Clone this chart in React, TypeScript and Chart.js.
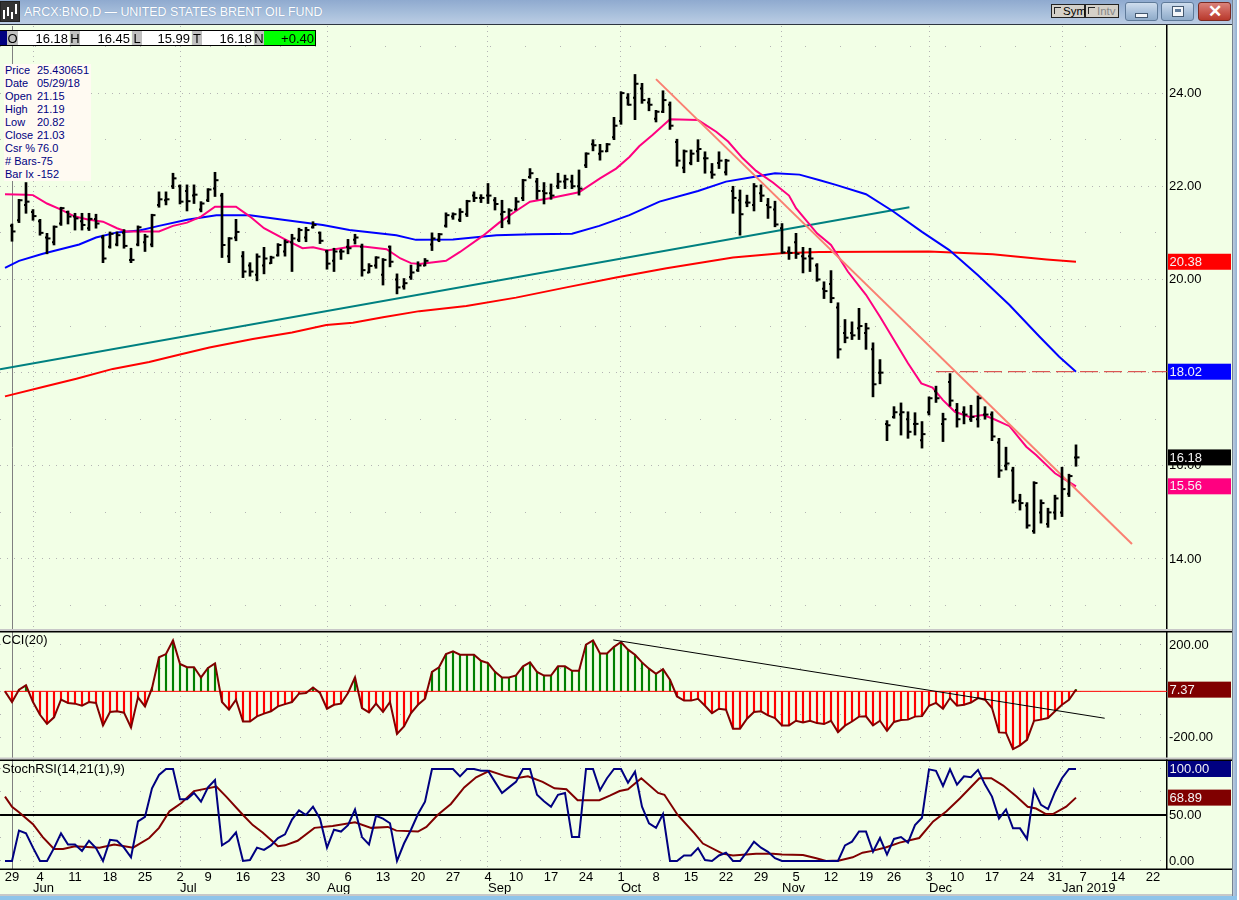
import React, { useEffect, useRef } from "react";
import Chart from "chart.js/auto";

const highs = [21.19,21.72,22.08,21.50,21.29,20.99,21.15,21.55,21.47,21.42,21.42,21.42,21.40,20.95,21.02,21.02,21.07,20.67,21.15,20.97,21.40,21.88,21.88,22.28,22.03,22.03,22.03,21.67,21.95,22.30,21.85,20.90,21.29,20.60,20.36,20.55,20.69,20.50,20.77,20.85,20.97,21.10,21.12,21.24,21.02,20.63,20.67,20.65,20.86,20.97,20.76,20.34,20.49,20.45,20.72,20.12,20.02,20.31,20.38,20.45,21.00,20.99,21.43,21.43,21.52,21.70,21.88,21.82,22.06,21.76,21.70,21.52,21.76,22.15,22.38,22.17,22.08,22.05,22.28,22.24,22.24,22.35,22.72,23.00,22.90,22.92,23.48,24.03,23.99,24.40,24.21,23.89,23.63,24.05,23.81,23.01,22.78,22.78,23.00,22.74,22.49,22.74,22.58,22.00,21.92,21.81,22.06,22.03,21.74,21.68,21.20,20.70,20.99,20.69,20.67,20.34,19.95,20.19,19.50,19.14,19.09,19.38,19.06,18.64,18.28,16.97,17.27,17.35,17.16,17.14,16.95,17.48,17.71,17.13,17.98,17.34,17.27,17.30,17.50,17.27,17.16,16.59,16.40,15.97,15.39,15.21,15.66,15.27,15.09,15.37,15.97,15.82,16.45];
const lows = [20.82,21.22,21.42,21.27,20.95,20.55,20.74,21.16,21.19,21.06,21.06,21.05,21.10,20.36,20.67,20.72,20.67,20.36,20.72,20.60,20.70,21.55,21.60,21.95,21.62,21.47,21.63,21.45,21.67,21.78,20.47,20.36,20.83,20.04,20.07,19.97,20.12,20.34,20.50,20.50,20.17,20.81,20.81,21.10,20.77,20.22,20.17,20.43,20.55,20.76,20.07,20.14,20.24,19.88,20.27,19.69,19.79,20.00,20.17,20.29,20.62,20.81,21.12,21.29,21.24,21.35,21.67,21.65,21.63,21.49,21.11,21.19,21.49,21.69,22.17,21.72,21.62,21.72,21.95,21.95,21.95,21.81,22.40,22.76,22.56,22.74,23.00,23.33,23.74,23.43,23.78,23.62,23.38,23.58,23.22,22.43,22.29,22.46,22.53,22.28,22.17,22.38,22.24,21.42,20.95,21.56,21.47,21.67,21.31,21.13,20.56,20.43,20.45,20.14,20.17,19.96,19.59,19.50,18.31,18.64,18.71,18.71,18.50,17.48,17.76,16.54,17.02,16.66,16.59,16.66,16.38,17.09,17.36,16.52,17.28,16.83,16.90,16.95,16.83,17.00,16.54,15.75,15.91,15.20,15.05,14.66,14.55,14.77,14.68,14.85,14.91,15.34,15.99];
const opens = [21.15,21.27,21.60,21.45,21.25,20.90,20.80,21.20,21.45,21.35,21.25,21.10,21.30,20.90,20.70,20.75,21.00,20.42,20.75,20.80,20.75,21.60,21.70,22.00,22.00,21.90,21.80,21.50,21.70,21.95,21.80,20.50,20.90,20.50,20.30,20.10,20.30,20.35,20.52,20.60,20.80,20.85,20.90,21.12,21.00,20.60,20.40,20.60,20.70,20.85,20.70,20.15,20.30,20.10,20.70,20.00,19.85,20.05,20.20,20.30,20.75,20.85,21.15,21.35,21.28,21.40,21.80,21.75,21.80,21.70,21.40,21.25,21.50,21.75,22.20,22.10,21.90,21.85,22.00,22.10,22.10,22.00,22.45,22.90,22.70,22.75,23.05,23.40,23.90,23.90,24.10,23.80,23.45,23.60,23.75,22.95,22.40,22.50,22.75,22.60,22.30,22.50,22.30,21.90,21.70,21.65,21.60,21.85,21.60,21.50,21.10,20.60,20.80,20.50,20.50,20.30,19.80,19.90,19.40,18.85,18.85,18.95,18.85,18.50,18.00,16.90,17.05,17.10,17.00,16.90,16.55,17.15,17.60,16.90,17.80,17.20,17.15,17.00,17.00,17.10,17.10,16.50,16.00,15.90,15.25,15.15,14.60,15.00,14.75,15.00,15.00,15.40,16.18];
const closes = [21.03,21.70,21.67,21.36,21.00,20.88,21.13,21.53,21.35,21.31,21.17,21.30,21.20,20.45,20.98,20.95,20.72,20.42,21.12,20.92,21.38,21.72,21.72,22.17,21.67,21.68,21.82,21.63,21.93,22.13,20.74,20.88,21.02,20.17,20.17,20.49,20.45,20.47,20.74,20.80,20.88,21.06,21.06,21.17,20.83,20.34,20.60,20.60,20.67,20.90,20.20,20.29,20.47,20.42,20.38,19.83,19.92,20.15,20.30,20.40,20.88,20.97,21.38,21.40,21.45,21.68,21.75,21.75,21.80,21.62,21.45,21.48,21.67,22.13,22.28,21.90,21.85,21.80,22.10,22.15,22.00,21.95,22.70,22.88,22.75,22.90,23.30,24.00,23.75,24.20,23.85,23.75,23.60,23.85,23.30,22.55,22.75,22.70,22.80,22.60,22.25,22.55,22.55,21.75,21.40,21.65,22.00,21.80,21.55,21.18,20.58,20.57,20.55,20.45,20.45,20.00,19.75,19.60,18.50,18.75,18.80,19.00,18.95,17.75,18.00,16.87,17.15,17.15,16.73,16.90,16.68,17.45,17.45,17.00,17.40,17.00,17.10,17.05,17.45,17.10,16.63,15.90,16.05,15.25,15.20,14.72,15.63,15.20,15.00,15.30,15.50,15.78,16.18];

const pinkX = [-1,2,3,5,7,9,11,13,15,16.3,21,23,25,27,29,32,34,36,39,41.5,43,45,49,50.5,53.5,55.5,57,58.2,62,64,67.3,69.6,72,74,77,81,84,86.3,88.2,89.6,91.5,94,98,100.6,102.3,104.4,106.3,108.7,111,112,115,117,119.4,122,124,126,128,129.9,131.5,133,134.7,136.8,138.7,140,142.5,144.9,146.3,149,152];
const pinkY = [21.83,21.82,21.81,21.63,21.50,21.35,21.28,21.24,21.10,21.03,21.03,21.15,21.22,21.35,21.56,21.56,21.35,21.10,20.86,20.67,20.69,20.62,20.72,20.70,20.65,20.45,20.35,20.33,20.40,20.59,20.94,21.22,21.47,21.67,21.75,21.87,22.17,22.38,22.63,22.86,23.10,23.44,23.42,23.17,22.96,22.60,22.33,22.08,21.80,21.53,20.99,20.74,20.17,19.67,19.20,18.70,18.20,17.77,17.68,17.41,17.16,17.05,17.09,17.02,16.85,16.41,16.23,15.84,15.56];
const blueX = [-1,1,4.4,9.6,12,15,18.2,21,25,29.2,34,38.7,44.4,48.2,54.9,57.7,63,69.2,74.4,80,83.9,88.2,92.5,98,102,105.9,109,112.5,115.4,117.7,122,125.8,130,133.9,138,142.5,146.8,149.6,152];
const blueY = [20.25,20.40,20.55,20.75,20.90,21.01,21.05,21.15,21.28,21.38,21.38,21.28,21.17,21.06,20.95,20.85,20.86,20.95,20.97,20.98,21.15,21.38,21.67,21.90,22.10,22.20,22.28,22.25,22.13,22.03,21.83,21.47,21.02,20.63,20.09,19.45,18.77,18.34,18.02];
const redX = [-1,4.4,9.2,14.4,19.6,24,28.2,34.4,40,44.9,48.7,53,58.2,64.9,72,79.2,86.3,93.5,103,109.9,115.3,131,140.1,143,147.8,152];
const redY = [17.49,17.69,17.87,18.08,18.23,18.39,18.54,18.72,18.86,19.02,19.07,19.19,19.32,19.43,19.61,19.83,20.04,20.24,20.47,20.56,20.59,20.60,20.54,20.50,20.43,20.38];
const tealX = [-1.71,128.2];
const tealY = [18.07,21.55];
const salmonX = [92,160];
const salmonY = [24.3,14.32];
const resistX = [132,165];
const resistY = [18.02,18.02];

const cciValues = [0,-46,7,26,-46,-101,-140,-112,-36,-50,-53,-62,-46,-50,-147,-89,-86,-92,-156,-26,-65,14,147,161,220,118,104,104,60,101,121,-46,-79,-36,-130,-130,-108,-96,-86,-65,-55,-46,-10,-7,17,-7,-75,-58,-53,-7,60,-72,-91,-53,-89,-46,-184,-151,-94,-58,-32,84,104,161,173,158,158,158,132,122,84,60,60,69,108,125,84,68,68,108,108,89,89,202,220,163,163,192,213,180,158,125,98,76,96,50,-22,-40,-40,-32,-62,-94,-75,-79,-161,-161,-118,-89,-86,-104,-115,-147,-147,-127,-134,-127,-137,-141,-127,-176,-148,-130,-109,-108,-147,-127,-170,-132,-124,-122,-109,-107,-62,-50,-75,-29,-62,-58,-48,-29,-36,-72,-177,-179,-249,-233,-209,-127,-122,-115,-86,-58,-36,7.37];
const cciTrendX = [85.9,156.1];
const cciTrendY = [222,-116];
const cciZeroX = [-1,165];
const cciZeroY = [0,0];

const stochValues = [0,0,33,30,14.5,0,0,14,30,18,18,11,22,14,0,23,22,14.5,4,43,48,79,93.5,100,100,67,67,74,64.5,80,88,17,22,31,0,1,14.5,12,17,25,29,45,55,50,59,46,14.5,34,32,39,56,26,18,49,46,41,0,19,34,51,64.5,100,100,100,100,92,100,100,98,98,86,74,80,86,100,100,72,65,59,72,74,26,26,100,100,77,90,100,100,85,97,59,41,36,51,0,0,6,6,14,1,0,6,9,0,0,10,21,14.5,10,3,0,0,0,0,0,0,0,0,0,17,21,32,32,10,25,7,24,26,20,39,47,99.6,98,81.5,99.6,83,92,91,99,83,70,46,56,35.5,35.5,24,77,61,56.5,75,90,100,100];
const signalX = [-1,0,1,3,4.4,6,7.3,9,12.5,14.6,17.3,19.6,21,22.5,24.2,26,29.2,30.6,33,34.4,35.8,38,39,40.8,43.2,45.8,49,51.3,53.7,54.9,58,59.2,60.8,62.7,64.6,66.3,68.2,70.6,72,73.7,75.8,77.5,79.2,80.8,83.9,85.4,86.8,88,89.9,92.3,93.2,95.1,97.5,98.7,101.5,103,106.3,108.7,110,113,114.9,116.3,118.2,120.1,121.5,122.9,124.9,126.8,129.6,131.6,133.5,135.4,138.2,139.9,141.6,143.5,145.1,146.3,147.7,148.7,150.6,152];
const signalY = [70,59,53,40,26,13,13,16,14.5,18,14.5,25,36,54,63,76,81,70,50,39,31,16,17,22,36,38,42,36,37,33,32,37,50,62,80,91,98,92,90,92,86,79,78,66,66,71,76,78,90,74,72,50,30,19,8,6,8,8,7,6.5,3,0,0.5,4,9,11,15,20,25,43,54,68,90,90,82,70,59,57,51,51,59,68.89];
const stochMidX = [-1.71,165];
const stochMidY = [50,50];

const weekIndex = [0,4,9,14,19,24,28,33,38,43,48,53,58,63,68,72,77,82,87,92,97,102,107,112,117,122,126,131,135,140,145,149,153,158,163];
const weekLabels = ["29","4","11","18","25","2","9","16","23","30","6","13","20","27","4","10","17","24","1","8","15","22","29","5","12","19","26","3","10","17","24","31","7","14","22"];
const monthIndex = [3,24,45,68,87,110,131,150];
const monthLabels = ["Jun","Jul","Aug","Sep","Oct","Nov","Dec","Jan 2019"];

const priceTicks = [13,14,15,16,17,18,19,20,21,22,23,24,25];
const priceLabelled = [14,16,18,20,22,24];
const cciTicks = [-200,-100,0,100,200];
const cciLabelled = [-200,200];
const stochTicks = [0,25,50,75,100];
const stochLabelled = [0,50,100];

const tagAxes = ["yP","yP","yP","yP","yC","yS","yS"];
const tagValues = [20.38,18.02,16.18,15.56,7.37,100,68.89];
const tagTexts = ["20.38","18.02","16.18","15.56","7.37","100.00","68.89"];
const tagFills = ["#ff0000","#0000ff","#000000","#ff0080","#800000","#000080","#800000"];

const FONT = "13px 'Liberation Sans', Arial, sans-serif";
const BG = "#f2ffe6";
const zip = (xs: number[], ys: number[]) => xs.map((x, i) => ({ x, y: ys[i] }));
const series = (vals: number[], start: number) => vals.map((y, i) => ({ x: i + start, y }));

const chrome = {
  id: "chrome",
  beforeDatasetsDraw(chart: any) {
    const { ctx, scales } = chart;
    ctx.save();
    for (const id of ["yC", "yS"]) {
      const t = scales[id].top;
      ctx.fillStyle = "#c8c8c8";
      ctx.fillRect(0, t - 1, 1232, 2);
      ctx.fillStyle = "#000";
      ctx.fillRect(0, t + 1, 1232, 1.5);
    }
    ctx.restore();
  },
  afterDatasetsDraw(chart: any) {
    const { ctx, scales } = chart;
    ctx.save();
    ctx.font = FONT;
    ctx.textBaseline = "middle";
    tagValues.forEach((v, i) => {
      const y = scales[tagAxes[i]].getPixelForValue(v);
      ctx.fillStyle = tagFills[i];
      ctx.fillRect(1168, y - 8, 63, 16);
      ctx.fillStyle = "#f4f4f4";
      ctx.fillText(tagTexts[i], 1169.5, y + 0.5);
    });
    ctx.fillStyle = "#000";
    ctx.fillText("CCI(20)", 2, scales.yC.top + 10);
    ctx.fillText("StochRSI(14,21(1),9)", 2, scales.yS.top + 10.5);
    monthIndex.forEach((m, i) => {
      ctx.fillText(monthLabels[i], scales.x.getPixelForValue(m), 888.5);
    });
    ctx.fillStyle = "#000";
    ctx.fillRect(0, scales.x.top - 0.5, 1232, 1.5);
    ctx.restore();
  },
};

const btn: React.CSSProperties = { position: "absolute", top: 2, height: 19, borderRadius: 3, border: "1px solid #5f7a99", background: "linear-gradient(#cfdded,#a9c0da 55%,#8fabc9)", boxSizing: "border-box" };
const seg = (left: number, width: number, bg: string, text: string, align: "left" | "right" | "center" = "center"): React.ReactElement => (
  <div key={left} style={{ position: "absolute", left, width, top: 0, height: 14, lineHeight: "15px", background: bg, textAlign: align, fontSize: 13, paddingRight: align === "right" ? 1 : 0, boxSizing: "border-box", color: "#000" }}>{text}</div>
);
const infoRows: [string, string][] = [["Price","25.430651"],["Date","05/29/18"],["Open","21.15"],["High","21.19"],["Low","20.82"],["Close","21.03"],["Csr %","76.0"],["# Bars","-75"],["Bar Ix","-152"]];
const check = <span style={{ position: "absolute", left: 2, top: 2, width: 7, height: 7, background: "#d4d0c8", borderTop: "1px solid #222", borderLeft: "1px solid #222", boxSizing: "border-box" }} />;

export default function App() {
  const ref = useRef<HTMLCanvasElement>(null);
  useEffect(() => {
    if (!ref.current) return;
    const yBase = (stack: string, ticks: number[], labelled: number[], weight: number, sw: number, min: number, max: number, dash: (v: number) => number[]) => ({
      type: "linear", position: "right", stack: "panes", stackWeight: sw, weight, min, max,
      afterFit: (s: any) => { s.width = 72; s.paddingTop = 0; s.paddingBottom = 0; },
      afterBuildTicks: (s: any) => { s.ticks = ticks.map((value) => ({ value })); },
      border: { color: "#000", width: 1.5, dash: (c: any) => (c.tick ? dash(c.tick.value) : []) },
      grid: { color: "#b4b4b4", lineWidth: 1, drawTicks: false },
      ticks: { color: "#000", font: { family: "'Liberation Sans', Arial, sans-serif", size: 13 }, padding: 2, autoSkip: false, callback: (v: number) => (labelled.includes(v) ? v.toFixed(2) : "") },
    });
    const line = (data: any[], yAxisID: string, borderColor: string, borderWidth: number, order: number, extra: any = {}) => ({
      type: "line", data, yAxisID, xAxisID: "x", borderColor, borderWidth, order, pointRadius: 0, tension: 0, fill: false, ...extra,
    });
    const tickMark = (vals: number[], rotation: number, radius: number) => ({
      type: "line", data: series(vals, 0), yAxisID: "yP", showLine: false, order: 0,
      pointStyle: "dash", pointRadius: radius, pointHoverRadius: radius, pointRotation: rotation, pointBorderColor: "#000", pointBorderWidth: 2,
    });
    const chart = new Chart(ref.current, {
      type: "bar",
      data: {
        datasets: [
          { type: "bar", data: highs.map((h, i) => ({ x: i, y: [lows[i], h] })), yAxisID: "yP", backgroundColor: "#000", barThickness: 2, grouped: false, order: 0 },
          tickMark(opens, 180, 2),
          tickMark(closes, 0, 3.5),
          line(zip(redX, redY), "yP", "#ff0000", 2, 5),
          line(zip(blueX, blueY), "yP", "#0000ff", 2, 4),
          line(zip(tealX, tealY), "yP", "#008080", 2, 4),
          line(zip(pinkX, pinkY), "yP", "#ff0080", 2, 3),
          line(zip(salmonX, salmonY), "yP", "#fa8072", 2, 2),
          line(zip(resistX, resistY), "yP", "#d43030", 1, 2, { borderDash: [18, 6] }),
          { type: "bar", data: series(cciValues, -1), yAxisID: "yC", backgroundColor: (c: any) => ((c.raw?.y ?? 0) > 0 ? "#008000" : "#ff0000"), barThickness: 1.5, grouped: false, order: 6 },
          line(zip(cciZeroX, cciZeroY), "yC", "#ff0000", 1, 5),
          line(series(cciValues, -1), "yC", "#800000", 2, 3),
          line(zip(cciTrendX, cciTrendY), "yC", "#000", 1, 2),
          line(zip(stochMidX, stochMidY), "yS", "#000", 2, 5),
          line(zip(signalX, signalY), "yS", "#800000", 2, 4),
          line(series(stochValues, -1), "yS", "#000080", 2, 3),
        ] as any,
      },
      options: {
        animation: false,
        responsive: false,
        devicePixelRatio: 1,
        layout: { padding: { top: 26, left: 0, right: 0, bottom: 0 }, autoPadding: false },
        plugins: { legend: { display: false }, tooltip: { enabled: false } },
        events: [],
        scales: {
          x: {
            type: "linear", position: "bottom", min: -12 / 7, max: 165, offset: false,
            afterFit: (s: any) => { s.height = 31; s.paddingLeft = 0; s.paddingRight = 0; },
            afterBuildTicks: (s: any) => {
              const all = Array.from(new Set([...weekIndex, ...monthIndex])).sort((a, b) => a - b);
              s.ticks = all.map((value) => ({ value }));
            },
            border: { display: false, dash: (c: any) => (c.tick && c.tick.value === 0 ? [] : [1, 4]) },
            grid: {
              offset: false, drawTicks: false, lineWidth: 1,
              color: (c: any) => (c.tick && c.tick.value === 0 ? "#808080" : monthIndex.includes(c.tick?.value) ? "#b4b4b4" : "rgba(0,0,0,0)"),
            },
            ticks: {
              color: "#000", font: { family: "'Liberation Sans', Arial, sans-serif", size: 13 }, padding: 1, autoSkip: false, maxRotation: 0, minRotation: 0,
              callback: (v: number) => { const k = weekIndex.indexOf(v); return k >= 0 ? weekLabels[k] : ""; },
            },
          },
          yP: yBase("panes", priceTicks, priceLabelled, 0, 604, 12.476, 25.44, (v) => (priceLabelled.includes(v) ? [1, 6] : [1, 34])),
          yC: yBase("panes", cciTicks, cciLabelled, 1, 128.5, -289.7, 264.7, () => [1, 19]),
          yS: yBase("panes", stochTicks, stochLabelled, 2, 110.5, -8.7, 111.4, () => [1, 19]),
        } as any,
      },
      plugins: [chrome],
    } as any);
    return () => chart.destroy();
  }, []);

  return (
    <div style={{ position: "absolute", left: 0, top: 0, width: 1239, height: 900, overflow: "hidden", background: BG, fontFamily: "'Liberation Sans', Arial, sans-serif" }}>
      <canvas ref={ref} width={1239} height={900} style={{ position: "absolute", left: 0, top: 0, width: 1239, height: 900 }} />

      <div style={{ position: "absolute", left: 0, top: 0, width: 1232, height: 25, background: "linear-gradient(#8faacf,#a9c0dc 60%,#bccde4)", borderBottom: "1.5px solid #2e3640", boxSizing: "border-box" }}>
        <svg width="20" height="21" style={{ position: "absolute", left: 0, top: 1 }}>
          <rect x="0.5" y="0.5" width="19" height="20" fill="#333" stroke="#222" />
          <path d="M4 9v9M8 6v9M12 11v7M16 3v10" stroke="#fff" strokeWidth="2" />
        </svg>
        <div style={{ position: "absolute", left: 24, top: 4, fontSize: 12.4, lineHeight: "16px", color: "#fff", whiteSpace: "nowrap", textShadow: "0 0 1px #6f8fb8" }}>ARCX:BNO,D — UNITED STATES BRENT OIL FUND</div>
        <div style={{ position: "absolute", left: 1051, top: 4, width: 34, height: 14, background: "#d4d0c8", border: "1px solid #222", boxSizing: "border-box", fontSize: 11.5, lineHeight: "13px", paddingLeft: 11 }}>{check}Sym</div>
        <div style={{ position: "absolute", left: 1085, top: 4, width: 34, height: 14, background: "#d4d0c8", border: "1px solid #222", boxSizing: "border-box", fontSize: 11.5, lineHeight: "13px", paddingLeft: 11, color: "#888" }}>{check}Intv</div>
        <div style={{ ...btn, left: 1125, width: 33 }}><div style={{ position: "absolute", left: 9, top: 10, width: 13, height: 5, background: "#f4f6f9", border: "1px solid #44586f", boxSizing: "border-box" }} /></div>
        <div style={{ ...btn, left: 1161, width: 33 }}><div style={{ position: "absolute", left: 10, top: 3, width: 12, height: 11, background: "#f4f6f9", border: "1px solid #44586f", boxSizing: "border-box" }}><div style={{ margin: 2, height: 3, background: "#5f7a99" }} /></div></div>
        <div style={{ ...btn, left: 1198, width: 33, background: "linear-gradient(#d9837b,#c9584e 55%,#b8392c)", borderColor: "#7a2a22", color: "#fff", fontSize: 17, fontWeight: "bold", lineHeight: "17px", textAlign: "center" }}>✕</div>
      </div>

      <div style={{ position: "absolute", left: 0, top: 30, width: 316, height: 16, borderTop: "1px solid #000", borderBottom: "1px solid #000", boxSizing: "border-box", borderRight: "1px solid #000" }}>
        {seg(0, 7, "#000080", "")}
        {seg(7, 11, "#c0c0c0", "O")}
        {seg(18, 51, "#fff", "16.18", "right")}
        {seg(70, 10, "#c0c0c0", "H")}
        {seg(80, 51, "#fff", "16.45", "right")}
        {seg(132, 10, "#c0c0c0", "L")}
        {seg(142, 49, "#fff", "15.99", "right")}
        {seg(192, 10, "#c0c0c0", "T")}
        {seg(202, 51, "#fff", "16.18", "right")}
        {seg(254, 10, "#c0c0c0", "N")}
        {seg(264, 51, "#00ff00", "+0.40", "right")}
      </div>

      <div style={{ position: "absolute", left: 4, top: 64, width: 87, height: 117, background: "#fffaf2", color: "#000080", fontSize: 11 }}>
        {infoRows.map(([k, v], i) => (
          <div key={k} style={{ position: "absolute", top: i * 13, left: 1, height: 13, lineHeight: "13px", whiteSpace: "nowrap" }}>
            <span style={{ display: "inline-block", width: 32 }}>{k}</span>{v}
          </div>
        ))}
      </div>

      <div style={{ position: "absolute", left: 1232, top: 0, width: 5, height: 900, background: "linear-gradient(90deg,#55606c,#b8c9dc 30%,#8fb0d2)" }} />
      <div style={{ position: "absolute", left: 1237, top: 0, width: 2, height: 900, background: "#fff" }} />
      <div style={{ position: "absolute", left: 0, top: 894, width: 1232, height: 2, background: "#c8c8c8" }} />
      <div style={{ position: "absolute", left: 0, top: 896, width: 1237, height: 4, background: "#8fc4ea" }} />
    </div>
  );
}
